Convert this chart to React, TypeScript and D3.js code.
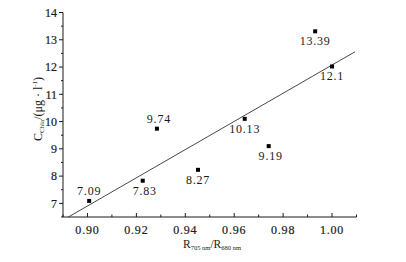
import React from "react";
import * as d3 from "d3";

const ratioValues = [0.9007, 0.9226, 0.9284, 0.9452, 0.9643, 0.9741, 0.9931, 1.0];
const chlValues = [7.09, 7.83, 9.74, 8.23, 10.1, 9.1, 13.31, 12.02];
const pointLabels = ["7.09", "7.83", "9.74", "8.27", "10.13", "9.19", "13.39", "12.1"];
const labelAbove = [true, false, true, false, false, false, false, false];
const labelDx = [0, 2, 2, 0, 0, 2, 0, 0];
const fitX = [0.8922, 1.0094];
const fitY = [6.5, 12.56];
const xTicks = [0.9, 0.92, 0.94, 0.96, 0.98, 1.0];
const yTicks = [7, 8, 9, 10, 11, 12, 13, 14];

const W = 406;
const H = 262;
const FONT = "'Liberation Serif', 'DejaVu Serif', serif";

export default function App() {
  const x = d3.scaleLinear().domain([0.89, 1.01]).range([63, 356.5]);
  const y = d3.scaleLinear().domain([6.5, 14]).range([217, 12.5]);
  const xMinor = d3.range(0.89, 1.0101, 0.01);
  const yMinor = d3.range(6.5, 14.01, 0.5);
  const line = d3.line<[number, number]>().x((d) => x(d[0])).y((d) => y(d[1]));
  const fitPts: [number, number][] = fitX.map((v, i) => [v, fitY[i]]);
  const ink = "#1a1a1a";

  return (
    <svg
      width={W}
      height={H}
      style={{ position: "absolute", left: 0, top: 0, background: "#fff" }}
      fontFamily={FONT}
    >
      <rect width={W} height={H} fill="#fff" />
      {/* axes */}
      <line x1={x(0.89)} x2={x(0.89)} y1={y(6.5)} y2={y(14)} stroke={ink} strokeWidth={1} />
      <line x1={x(0.89)} x2={x(1.01)} y1={y(6.5)} y2={y(6.5)} stroke={ink} strokeWidth={1} />
      {yMinor.map((v, i) => (
        <line key={"ym" + i} x1={x(0.89)} x2={x(0.89) - (Math.abs(v - Math.round(v)) < 1e-6 ? 4 : 2)} y1={y(v)} y2={y(v)} stroke={ink} />
      ))}
      {yTicks.map((v) => (
        <text key={"yt" + v} x={x(0.89) - 6} y={y(v)} dy="0.35em" textAnchor="end" fontSize={12} fill={ink} stroke={ink} strokeWidth={0.2}>
          {v}
        </text>
      ))}
      {xMinor.map((v, i) => (
        <line key={"xm" + i} x1={x(v)} x2={x(v)} y1={y(6.5)} y2={y(6.5) - (i % 2 === 1 ? 4 : 2.5)} stroke={ink} />
      ))}
      {xTicks.map((v) => (
        <text key={"xt" + v} x={x(v)} y={y(6.5) + 17} textAnchor="middle" fontSize={12} fill={ink} stroke={ink} strokeWidth={0.2} letterSpacing={0.8}>
          {v.toFixed(2)}
        </text>
      ))}
      {/* fit line */}
      <path d={line(fitPts) || ""} fill="none" stroke="#333" strokeWidth={0.9} />
      {/* points */}
      {ratioValues.map((v, i) => (
        <rect key={"p" + i} x={x(v) - 2} y={y(chlValues[i]) - 2} width={4} height={4} fill="#000" />
      ))}
      {ratioValues.map((v, i) => (
        <text
          key={"l" + i}
          x={x(v) + labelDx[i]}
          y={labelAbove[i] ? y(chlValues[i]) - 6 : y(chlValues[i]) + 14}
          textAnchor="middle"
          fontSize={12}
          fill={ink}
          letterSpacing={0.8}
        >
          {pointLabels[i]}
        </text>
      ))}
      {/* x label */}
      <text x={212} y={248} textAnchor="middle" fontSize={11.5} fill={ink}>
        R<tspan fontSize={6.5} dy={2}>705 nm</tspan>
        <tspan dy={-2}>/R</tspan>
        <tspan fontSize={6.5} dy={2}>680 nm</tspan>
      </text>
      {/* y label */}
      <text transform="translate(42,109) rotate(-90)" textAnchor="middle" fontSize={12} fill={ink}>
        C<tspan fontSize={7} dy={2}>Chla</tspan>
        <tspan dy={-2}>/(μg · l</tspan>
        <tspan fontSize={7} dy={-5}>-1</tspan>
        <tspan dy={5}>)</tspan>
      </text>
    </svg>
  );
}
